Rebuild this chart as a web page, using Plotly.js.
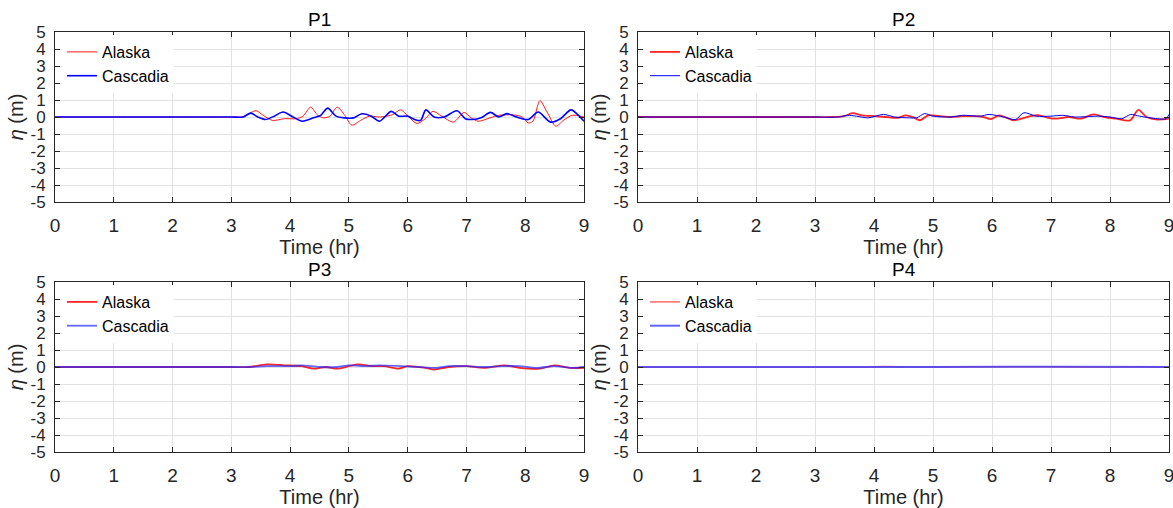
<!DOCTYPE html>
<html>
<head>
<meta charset="utf-8">
<script src="https://cdn.plot.ly/plotly-3.0.1.min.js"></script>
<style>html,body{margin:0;padding:0;background:#fff;}#chart{width:1173px;height:508px;}</style>
</head>
<body>
<div id="chart"></div>
<script>
// ---- data (time in hours, surface elevation eta in metres) ----
const panelTitles = ['P1', 'P2', 'P3', 'P4'];
const seriesNames = ['Alaska', 'Cascadia'];
const xTickVals = [0, 1, 2, 3, 4, 5, 6, 7, 8, 9];
const yTickVals = [-5, -4, -3, -2, -1, 0, 1, 2, 3, 4, 5];
const yTickText = ['-5', '-4', '-3', '-2', '-1', '0', '1', '2', '3', '4', '5'];

const p1AlaskaT = [0, 1, 2, 2.55, 3.0, 3.2, 3.3, 3.42, 3.55, 3.7, 3.9, 4.1, 4.22, 4.35, 4.47, 4.57, 4.68, 4.8, 4.93, 5.05, 5.2, 5.35, 5.5, 5.65, 5.75, 5.88, 6.02, 6.16, 6.3, 6.43, 6.58, 6.78, 6.96, 7.08, 7.2, 7.4, 7.55, 7.8, 7.95, 8.05, 8.13, 8.25, 8.37, 8.52, 8.65, 8.8, 9.0];
const p1AlaskaEta = [0, 0, 0, 0, 0, 0.02, 0.2, 0.37, 0.08, -0.2, -0.1, -0.1, 0.05, 0.58, 0.1, -0.05, 0.05, 0.58, 0.1, -0.48, -0.2, 0.05, 0.0, 0.05, 0.15, 0.42, 0.0, -0.38, -0.1, 0.33, 0.05, -0.3, 0.27, -0.05, -0.25, -0.05, 0.1, 0.12, 0.0, -0.35, -0.25, 0.96, 0.3, -0.54, -0.2, 0.1, 0.0];
const p1CascadiaT = [0, 1, 2, 3.0, 3.2, 3.33, 3.45, 3.58, 3.73, 3.88, 4.05, 4.21, 4.4, 4.52, 4.64, 4.78, 4.92, 5.08, 5.22, 5.38, 5.52, 5.72, 5.85, 6.0, 6.12, 6.22, 6.31, 6.45, 6.62, 6.84, 6.98, 7.1, 7.25, 7.41, 7.55, 7.69, 7.85, 8.05, 8.22, 8.43, 8.6, 8.78, 8.92, 9.0];
const p1CascadiaEta = [0, 0, 0, 0, 0, 0.23, 0.0, -0.15, 0.05, 0.29, 0.0, -0.25, -0.05, 0.1, 0.52, 0.05, -0.05, -0.05, 0.19, 0.05, -0.25, 0.33, 0.05, 0.05, -0.15, -0.2, 0.42, 0.0, 0.0, 0.37, -0.1, -0.15, -0.05, 0.27, 0.0, 0.2, 0.0, -0.15, 0.29, -0.3, -0.1, 0.42, 0.05, -0.25];

const p2AlaskaT = [0, 1, 2, 3.0, 3.3, 3.5, 3.63, 3.8, 4.0, 4.2, 4.4, 4.54, 4.66, 4.78, 4.92, 5.1, 5.3, 5.5, 5.7, 5.85, 5.98, 6.12, 6.25, 6.36, 6.5, 6.65, 6.8, 6.95, 7.1, 7.3, 7.5, 7.72, 7.9, 8.1, 8.34, 8.48, 8.62, 8.8, 9.0];
const p2AlaskaEta = [0, 0, 0, 0, 0, 0.05, 0.23, 0.1, 0.05, 0.0, -0.05, 0.1, 0.0, -0.19, 0.1, 0.05, 0.0, 0.05, 0.05, 0.0, -0.12, 0.1, -0.05, -0.2, -0.1, 0.05, 0.1, -0.05, -0.1, 0.0, -0.1, 0.15, 0.0, -0.1, -0.2, 0.42, 0.0, -0.15, -0.1];
const p2CascadiaT = [0, 1, 2, 3.0, 3.4, 3.55, 3.7, 3.9, 4.16, 4.35, 4.6, 4.72, 4.86, 5.0, 5.3, 5.5, 5.8, 5.95, 6.2, 6.4, 6.54, 6.75, 7.0, 7.2, 7.4, 7.8, 8.0, 8.2, 8.35, 8.5, 8.8, 8.95, 9.0];
const p2CascadiaEta = [0, 0, 0, 0, 0, 0.1, 0.05, -0.05, 0.15, 0.0, -0.05, -0.05, 0.2, 0.05, 0.0, 0.1, 0.05, 0.15, 0.0, -0.15, 0.25, 0.05, 0.05, 0.1, 0.0, 0.05, 0.0, -0.1, 0.15, 0.05, -0.1, -0.1, 0.15];

const p3AlaskaT = [0, 1, 2, 3.0, 3.3, 3.6, 3.9, 4.2, 4.4, 4.6, 4.8, 5.0, 5.15, 5.4, 5.6, 5.85, 6.0, 6.3, 6.45, 6.7, 7.0, 7.3, 7.65, 7.9, 8.25, 8.5, 8.75, 9.0];
const p3AlaskaEta = [0, 0, 0, 0, 0, 0.15, 0.1, 0.05, -0.1, 0.0, -0.1, 0.05, 0.15, 0.05, 0.05, -0.1, 0.05, -0.05, -0.15, 0.0, 0.05, -0.05, 0.1, -0.05, -0.1, 0.1, -0.05, -0.05];
const p3CascadiaT = [0, 1, 2, 3.0, 3.3, 3.6, 4.0, 4.2, 4.5, 4.8, 5.0, 5.3, 5.5, 5.9, 6.2, 6.5, 6.7, 7.0, 7.3, 7.6, 7.9, 8.2, 8.5, 8.8, 9.0];
const p3CascadiaEta = [0, 0, 0, 0, 0, 0.05, 0.05, 0.1, 0.0, 0.0, 0.1, 0.05, 0.1, 0.05, 0.0, -0.05, 0.05, 0.05, 0.0, 0.05, 0.05, -0.05, 0.05, -0.05, 0.0];

const p4AlaskaT = [0, 1, 2, 3, 3.9, 4.0, 4.5, 4.9, 5.3, 6.0, 7.0, 8.0, 8.6, 9.0];
const p4AlaskaEta = [0, 0, 0, 0, 0, 0.02, 0.02, 0.01, 0.02, 0.01, 0.01, 0.0, 0.02, 0.0];
const p4CascadiaT = [0, 2, 4, 6.2, 7.2, 9.0];
const p4CascadiaEta = [0, 0, 0, 0.01, 0.02, 0];

// ---- styling ----
const FONT = 'Liberation Sans, Arial, Helvetica, sans-serif';
const INK = '#262626';
const W = 1173, H = 508;
const px2x = p => p / W;
const py2y = p => 1 - p / H;

const panels = [
  {x: [55, 584], y: [32, 202], data: [[p1AlaskaT, p1AlaskaEta], [p1CascadiaT, p1CascadiaEta]],
   styles: [{color: 'rgba(255,0,0,0.9)', width: 1}, {color: 'rgb(0,0,255)', width: 1.6}]},
  {x: [638, 1169], y: [32, 202], data: [[p2AlaskaT, p2AlaskaEta], [p2CascadiaT, p2CascadiaEta]],
   styles: [{color: 'rgba(255,0,0,0.85)', width: 1.8}, {color: 'rgb(0,0,255)', width: 1}]},
  {x: [55, 584], y: [282, 452], data: [[p3AlaskaT, p3AlaskaEta], [p3CascadiaT, p3CascadiaEta]],
   styles: [{color: 'rgba(255,0,0,0.85)', width: 1.8}, {color: 'rgba(40,40,255,0.7)', width: 1.8}]},
  {x: [638, 1169], y: [282, 452], data: [[p4AlaskaT, p4AlaskaEta], [p4CascadiaT, p4CascadiaEta]],
   styles: [{color: 'rgba(255,0,0,0.6)', width: 1.5}, {color: 'rgba(60,60,255,0.8)', width: 2}]}
];

const traces = [];
const layout = {
  width: W, height: H,
  margin: {l: 0, r: 0, t: 0, b: 0},
  paper_bgcolor: '#ffffff', plot_bgcolor: '#ffffff',
  font: {family: FONT, color: INK},
  showlegend: true,
  annotations: []
};

panels.forEach((p, i) => {
  const n = i + 1;
  const xa = n === 1 ? 'x' : 'x' + n;
  const ya = n === 1 ? 'y' : 'y' + n;
  const lg = n === 1 ? 'legend' : 'legend' + n;
  p.data.forEach((d, j) => {
    traces.push({
      type: 'scatter', mode: 'lines', x: d[0], y: d[1], name: seriesNames[j],
      xaxis: xa, yaxis: ya, legend: lg,
      line: {color: p.styles[j].color, width: p.styles[j].width, shape: 'spline', smoothing: 0.8}
    });
  });
  const common = {
    ticks: 'inside', ticklen: 5, tickcolor: INK, tickwidth: 1,
    showline: true, linecolor: INK, linewidth: 1, mirror: 'ticks',
    showgrid: true, gridcolor: '#e2e2e2', gridwidth: 1, zeroline: false,
    automargin: false, fixedrange: true, ticklabeloverflow: 'allow'
  };
  layout['xaxis' + (n === 1 ? '' : n)] = Object.assign({}, common, {
    domain: [px2x(p.x[0]), px2x(p.x[1])], anchor: ya, range: [0, 9],
    tickmode: 'array', tickvals: xTickVals, ticklabelstandoff: 6,
    tickfont: {family: FONT, size: 19, color: INK},
    title: {text: 'Time (hr)', font: {family: FONT, size: 20, color: INK}, standoff: 3}
  });
  layout['yaxis' + (n === 1 ? '' : n)] = Object.assign({}, common, {
    domain: [py2y(p.y[1]), py2y(p.y[0])], anchor: xa, range: [-5, 5],
    tickmode: 'array', tickvals: yTickVals, ticktext: yTickText, ticklabelstandoff: 5,
    tickfont: {family: FONT, size: 17, color: INK},
    title: {text: '<i>η</i> (m)', font: {family: FONT, size: 20, color: INK}, standoff: 1}
  });
  layout[lg] = {
    x: px2x(p.x[0] + 7), y: py2y(p.y[0] + 3), xanchor: 'left', yanchor: 'top',
    bgcolor: '#ffffff', borderwidth: 0, font: {family: FONT, size: 16, color: '#000'},
    itemwidth: 30, tracegroupgap: 0
  };
  layout.annotations.push({
    text: panelTitles[i], xref: 'paper', yref: 'paper',
    x: px2x((p.x[0] + p.x[1]) / 2), y: py2y(p.y[0]), xanchor: 'center', yanchor: 'bottom',
    showarrow: false, font: {family: FONT, size: 19, color: '#000'}
  });
});

Plotly.newPlot('chart', traces, layout, {displayModeBar: false, staticPlot: true});
</script>
</body>
</html>
